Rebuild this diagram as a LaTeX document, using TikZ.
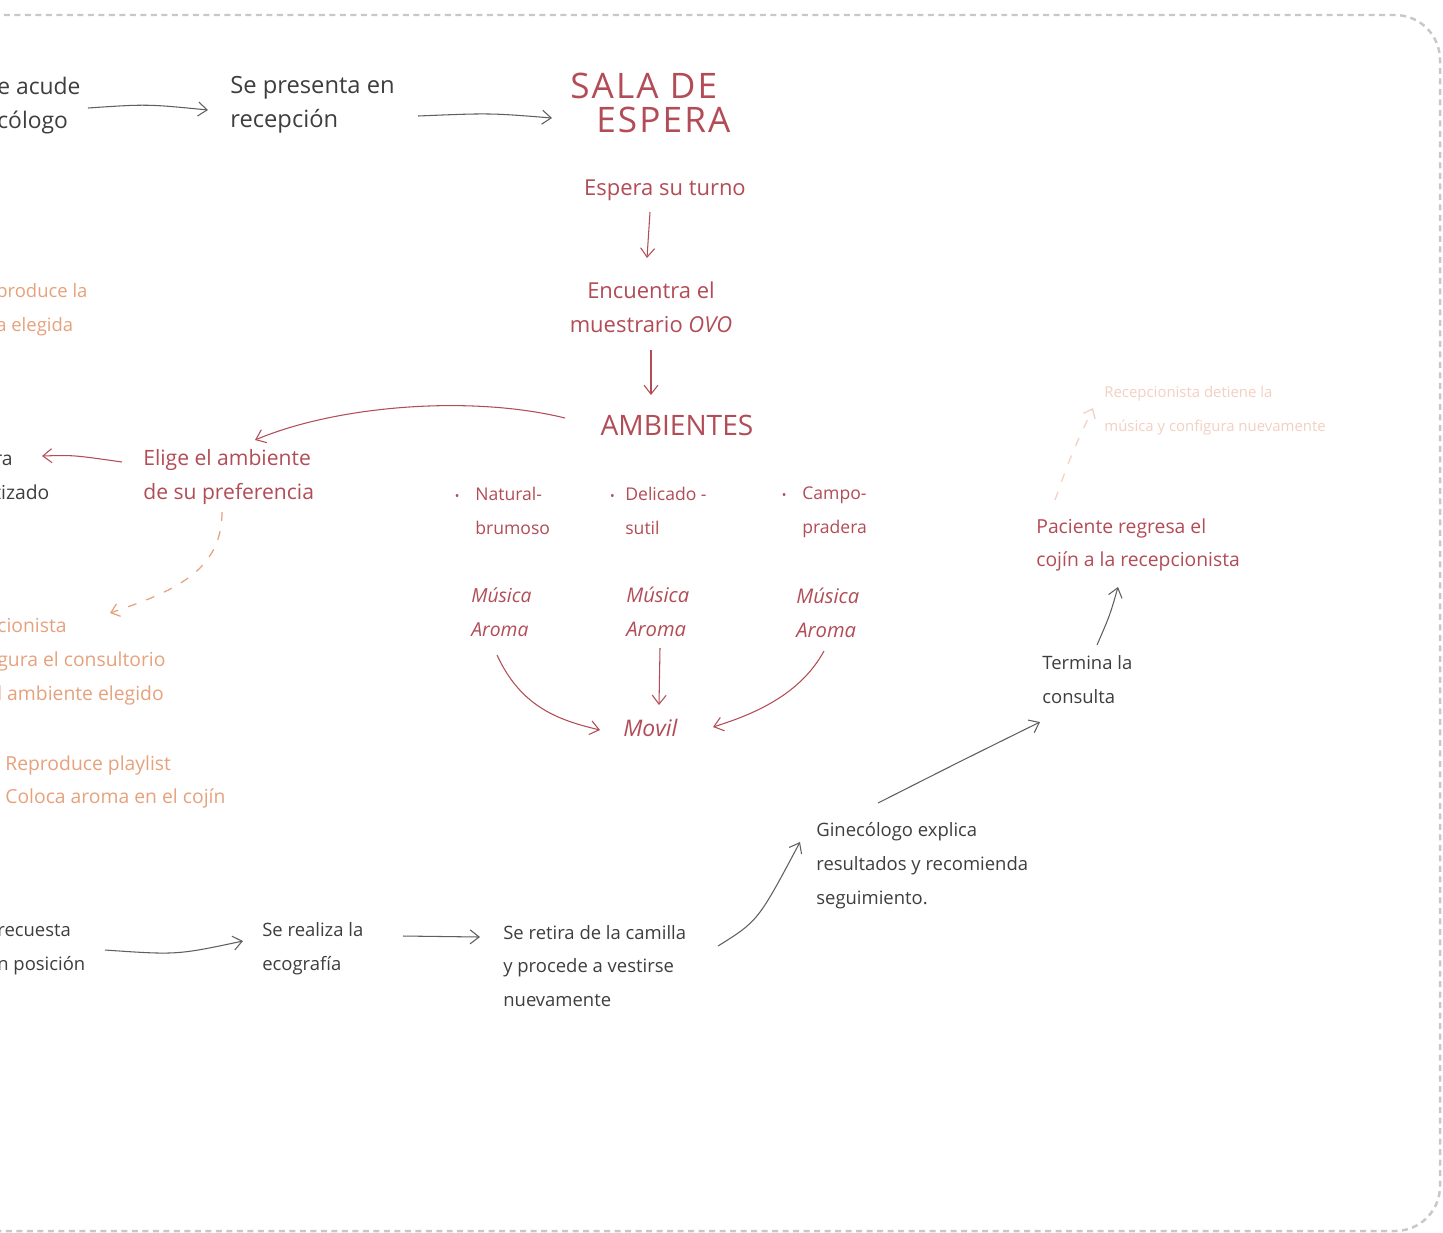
\documentclass[tikz,border=0pt]{standalone}
\usepackage{fontspec}
\setmainfont{Open Sans}
\usetikzlibrary{arrows.meta,calc}
\definecolor{ink}{RGB}{62,62,62}
\definecolor{inkarrow}{RGB}{95,95,95}
\definecolor{wine}{RGB}{178,76,86}
\definecolor{peach}{RGB}{230,162,125}
\definecolor{faint}{RGB}{243,208,194}
\definecolor{framecol}{RGB}{200,200,200}
\begin{document}
\begin{tikzpicture}[x=0.02cm,y=-0.02cm,
  lbl/.style={inner sep=0pt, align=left, anchor=west},
  fs/.style={font=\fontsize{#1}{19.3}\selectfont},
  fsi/.style={font=\fontsize{#1}{19.3}\selectfont\itshape},
  arr/.style={-{Straight Barb[length=1.8mm,width=2.8mm]}, line width=0.6pt},
  dasharr/.style={-{Straight Barb[length=1.6mm,width=2.6mm]}, line width=0.7pt, dash pattern=on 5pt off 6pt},
  framestyle/.style={draw=framecol, line width=1.4pt, dash pattern=on 0.12cm off 0.09cm, rounded corners=0.9cm},
]
\fill[white] (0,0) rectangle (1443,1232);
\useasboundingbox (0,0) rectangle (1443,1232);
\clip (0,0) rectangle (1443,1232);

% frame
\draw[framestyle] (-80,15) -- (1440,15) -- (1440,1231) -- (-80,1231);

% ---------- top row ----------
\node[lbl, fs=13, text=ink] (acude) at (-3,106) {e acude\\cólogo};
\node[lbl, fs=13.5, text=ink] (presenta) at (230,105) {Se presenta en\\recepción};
\node[lbl, font=\fontsize{20}{19.3}\selectfont\addfontfeature{LetterSpace=6}, text=wine] (sala) at (570,103) {SALA DE\\\hspace{0.52cm}ESPERA};
\node[inner sep=0pt, fs=12.5, text=wine] (espera) at (665,190) {Espera su turno};
\node[inner sep=0pt, align=center, fs=12.5, text=wine] (encuentra) at (651,307) {Encuentra el\\muestrario \textit{OVO}};
\node[inner sep=0pt, fs=16, text=wine] (ambientes) at (677,425) {AMBIENTES};

% ---------- left middle ----------
\node[lbl, fs=10.5, text=peach] (reproduce) at (-4,310) {produce la\\a elegida};
\node[lbl, fs=12, text=wine] (elige) at (143,477) {Elige el ambiente\\de su preferencia};
\node[lbl, fs=11, text=ink] (clima) at (-6,477) {ra\\tizado};
\node[lbl, fs=11, text=peach] (recep) at (-3,662) {cionista\\gura el consultorio\\l ambiente elegido};
\node[lbl, fs=11, text=peach] (playlist) at (5,782) {Reproduce playlist\\Coloca aroma en el cojín};

% ---------- ambientes ----------
\node[lbl, fs=10, text=wine] (nat) at (475,511) {\llap{\scalebox{0.7}{\textbullet}\hspace{9pt}}Natural-\\brumoso};
\node[lbl, fs=10, text=wine] (del) at (625,511) {\llap{\scalebox{0.7}{\textbullet}\hspace{6pt}}Delicado -\\sutil};
\node[lbl, fs=10, text=wine] (campo) at (802,512) {\llap{\scalebox{0.7}{\textbullet}\hspace{9pt}}Campo-\\pradera};
\node[lbl, fsi=11, text=wine] (mus1) at (471,612) {Música\\Aroma};
\node[lbl, fsi=11.5, text=wine] (mus2) at (626,612) {Música\\Aroma};
\node[lbl, fsi=11.5, text=wine] (mus3) at (796,613) {Música\\Aroma};
\node[lbl, fsi=13, text=wine] (movil) at (623,728) {Movil};

% ---------- right side ----------
\node[lbl, fs=8.5, text=faint] (faint) at (1104,411) {Recepcionista detiene la\\música y configura nuevamente};
\node[lbl, fs=11, text=wine] (paciente) at (1036,545) {Paciente regresa el\\cojín a la recepcionista};
\node[lbl, fs=10.5, text=ink] (termina) at (1042,680) {Termina la\\consulta};
\node[lbl, fs=10.5, text=ink] (gine) at (816,866) {Ginecólogo explica\\resultados y recomienda\\seguimiento.};

% ---------- bottom row ----------
\node[lbl, fs=10.5, text=ink] (recuesta) at (-3,950) {recuesta\\n posición};
\node[lbl, fs=10.5, text=ink] (realiza) at (262,949) {Se realiza la\\ecografía};
\node[lbl, fs=10.5, text=ink] (retira) at (503,966) {Se retira de la camilla\\y procede a vestirse\\nuevamente};

% ---------- connectors ----------
\draw[arr, inkarrow] ($(acude.west)+(91,2)$) .. controls ($(acude.west)+(150,-2)$) .. ($(presenta.west)+(-22,5)$);
\draw[arr, inkarrow] ($(presenta.west)+(188,11)$) .. controls ($(presenta.west)+(260,8)$) .. ($(sala.west)+(-18,15)$);
\draw[arr, wine] ($(espera)+(-15,22)$) -- ($(encuentra)+(-4,-49)$);
\draw[arr, wine] ($(encuentra)+(0,43)$) -- ($(ambientes)+(-26,-30)$);
\draw[arr, wine] ($(ambientes)+(-112,-7)$) .. controls ($(ambientes)+(-205,-30)$) and ($(elige.west)+(195,-72)$) .. ($(elige.west)+(112,-37)$);
\draw[arr, wine] ($(elige.west)+(-21,-15)$) .. controls ($(elige.west)+(-70,-22)$) .. ($(clima.west)+(48,-21)$);
\draw[dasharr, peach] ($(elige.west)+(79,35)$) .. controls ($(elige.west)+(79,95)$) and ($(recep.west)+(175,-70)$) .. ($(recep.west)+(113,-49)$);

\draw[arr, wine] ($(mus1.west)+(26,43)$) .. controls ($(mus1.west)+(50,95)$) and ($(movil.west)+(-65,-8)$) .. ($(movil.west)+(-23,2)$);
\draw[arr, wine] ($(mus2.west)+(34,36)$) -- ($(movil.west)+(36,-23)$);
\draw[arr, wine] ($(mus3.west)+(28,38)$) .. controls ($(mus3.west)+(5,80)$) and ($(movil.west)+(135,-15)$) .. ($(movil.west)+(90,-1)$);

\draw[dasharr, faint] ($(paciente.west)+(19,-45)$) .. controls ($(paciente.west)+(35,-90)$) .. ($(faint.west)+(-11,-3)$);
\draw[arr, inkarrow] ($(termina.west)+(55,-35)$) .. controls ($(termina.west)+(68,-65)$) .. ($(paciente.west)+(82,42)$);
\draw[arr, inkarrow] ($(gine.west)+(62,-63)$) .. controls ($(gine.west)+(145,-105)$) .. ($(termina.west)+(-2,42)$);
\draw[arr, inkarrow] ($(retira.west)+(215,-20)$) .. controls ($(retira.west)+(255,-45)$) .. ($(gine.west)+(-16,-24)$);
\draw[arr, inkarrow] ($(recuesta.west)+(108,0)$) .. controls ($(recuesta.west)+(180,5)$) .. ($(realiza.west)+(-19,-8)$);
\draw[arr, inkarrow] ($(realiza.west)+(141,-13)$) -- ($(retira.west)+(-23,-29)$);
\end{tikzpicture}
\end{document}
